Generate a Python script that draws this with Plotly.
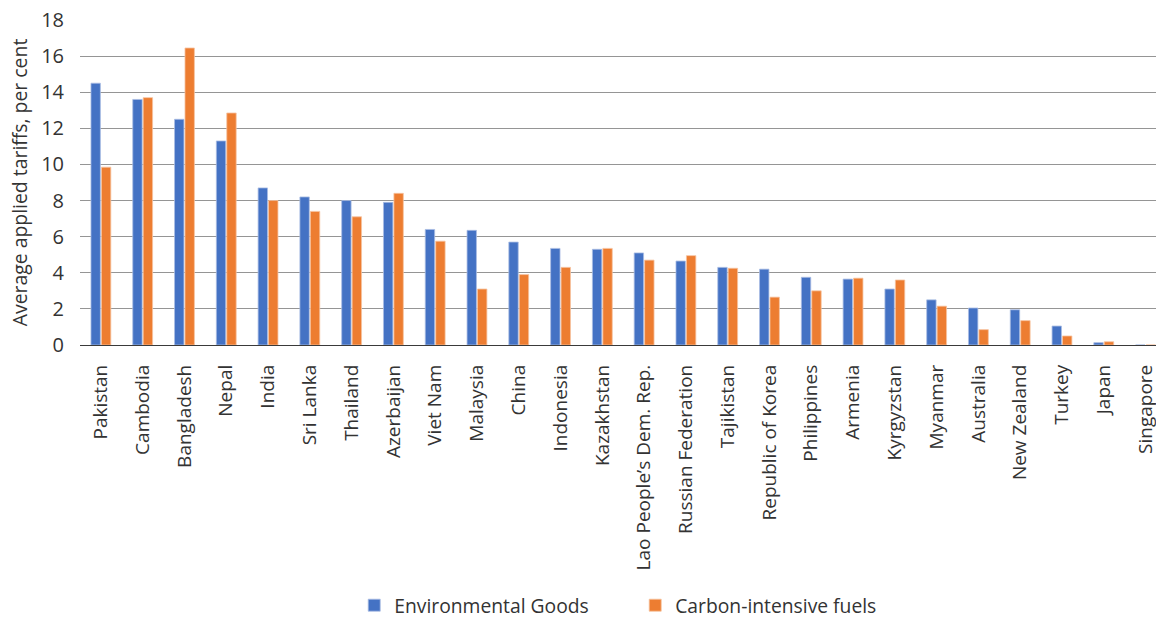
import plotly.graph_objects as go

countries = [
    "Pakistan", "Cambodia", "Bangladesh", "Nepal", "India", "Sri Lanka",
    "Thailand", "Azerbaijan", "Viet Nam", "Malaysia", "China", "Indonesia",
    "Kazakhstan", "Lao People\u2019s Dem. Rep.", "Russian Federation",
    "Tajikistan", "Republic of Korea", "Philippines", "Armenia", "Kyrgyzstan",
    "Myanmar", "Australia", "New Zealand", "Turkey", "Japan", "Singapore",
]
environmental_goods = [
    14.5, 13.6, 12.5, 11.3, 8.7, 8.2, 8.0, 7.9, 6.4, 6.35, 5.7, 5.35, 5.3,
    5.1, 4.65, 4.3, 4.2, 3.75, 3.65, 3.1, 2.5, 2.05, 1.95, 1.05, 0.13, 0.0,
]
carbon_fuels = [
    9.85, 13.7, 16.45, 12.85, 8.0, 7.4, 7.1, 8.4, 5.75, 3.1, 3.9, 4.3, 5.35,
    4.7, 4.95, 4.25, 2.65, 3.0, 3.7, 3.6, 2.15, 0.85, 1.35, 0.5, 0.18, 0.0,
]
y_ticks = [0, 2, 4, 6, 8, 10, 12, 14, 16, 18]

FONT = "Open Sans"
TEXT = "#333333"

fig = go.Figure()
fig.add_trace(go.Bar(
    x=countries, y=environmental_goods, name="Environmental Goods",
    marker=dict(color="#4472C4", line=dict(color="#A9BDE3", width=0.8)),
))
fig.add_trace(go.Bar(
    x=countries, y=carbon_fuels, name="Carbon-intensive fuels",
    marker=dict(color="#ED7D31", line=dict(color="#F6C3A0", width=0.8)),
))

fig.update_layout(
    width=1156, height=619,
    margin=dict(l=80, r=0, t=20, b=274, autoexpand=False),
    paper_bgcolor="white", plot_bgcolor="white",
    barmode="group", bargap=0.5, bargroupgap=0.1,
    font=dict(family=FONT, size=19, color=TEXT),
    showlegend=True,
    legend=dict(
        orientation="h", x=0.516, xanchor="center",
        y=-0.802, yanchor="middle",
        bgcolor="rgba(0,0,0,0)", borderwidth=0,
        font=dict(family=FONT, size=19.3, color=TEXT),
        entrywidth=236, itemclick=False,
    ),
    xaxis=dict(
        type="category", range=[-0.5, 25.25], automargin=False,
        tickangle=-90, tickfont=dict(family=FONT, size=19, color=TEXT),
        showgrid=False, showline=True, linecolor="#3a3a3a", linewidth=1.3,
        ticks="", ticklabelstandoff=11,
    ),
    yaxis=dict(
        range=[0, 18], tickvals=y_ticks, automargin=False,
        tickfont=dict(family=FONT, size=20, color=TEXT),
        showgrid=True, gridcolor="#959595", gridwidth=1,
        zeroline=False, showline=False, ticks="", ticklabelstandoff=15,
        title=dict(text="Average applied tariffs, per cent",
                   font=dict(family=FONT, size=19.4, color=TEXT), standoff=8),
    ),
)

fig.write_html("out.html")
